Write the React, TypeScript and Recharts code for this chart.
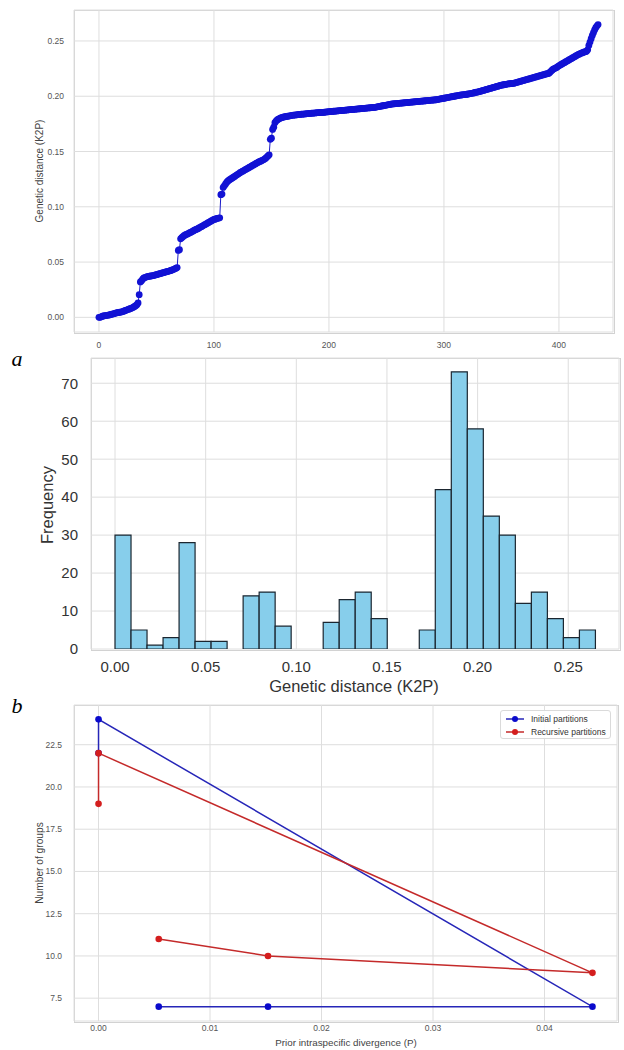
import React from 'react';
import { ComposedChart, Scatter, Bar, XAxis, YAxis, CartesianGrid, Legend } from 'recharts';

const SANS = '"Liberation Sans", Arial, Helvetica, sans-serif';
const SERIF = '"Liberation Serif", "Times New Roman", serif';

// ---------- top panel: sorted pairwise K2P distances (rank 0..434) ----------
const rankSegA = [
  0.0000, 0.0000, 0.0005, 0.0010, 0.0012, 0.0015, 0.0016, 0.0018, 0.0020, 0.0022,
  0.0025, 0.0028, 0.0030, 0.0033, 0.0036, 0.0040, 0.0042, 0.0044, 0.0046, 0.0048,
  0.0050, 0.0054, 0.0058, 0.0062, 0.0066, 0.0070, 0.0074, 0.0078, 0.0082, 0.0086,
  0.0092, 0.0098, 0.0105, 0.0115, 0.0130, 0.0205, 0.0320, 0.0330, 0.0345,
];
const rankSegB = [
  0.0356, 0.0360, 0.0364, 0.0368, 0.0370, 0.0372, 0.0374, 0.0376, 0.0378, 0.0380,
  0.0383, 0.0386, 0.0389, 0.0392, 0.0395, 0.0398, 0.0401, 0.0404, 0.0407, 0.0410,
  0.0413, 0.0416, 0.0419, 0.0422, 0.0426, 0.0430, 0.0434, 0.0439, 0.0445, 0.0450,
  0.0605, 0.0612,
];
const rankSegC = [
  0.0710, 0.0720, 0.0730, 0.0738, 0.0745, 0.0750, 0.0755, 0.0760, 0.0765, 0.0770,
  0.0776, 0.0782, 0.0788, 0.0793, 0.0797, 0.0802, 0.0808, 0.0814, 0.0820, 0.0826,
  0.0832, 0.0838, 0.0844, 0.0850, 0.0856, 0.0862, 0.0868, 0.0874, 0.0880, 0.0885,
  0.0888, 0.0892, 0.0896, 0.0898, 0.0900,
];
const rankSegD = [
  0.1110, 0.1115, 0.1175, 0.1190, 0.1205, 0.1220, 0.1232, 0.1240, 0.1247, 0.1254,
  0.1261, 0.1268, 0.1275, 0.1282, 0.1289, 0.1296, 0.1303, 0.1310, 0.1316, 0.1322,
  0.1328, 0.1334, 0.1340, 0.1346, 0.1352, 0.1358, 0.1364, 0.1370, 0.1376, 0.1382,
  0.1388, 0.1394, 0.1400, 0.1405, 0.1410, 0.1415, 0.1420, 0.1425, 0.1432, 0.1440,
  0.1450, 0.1460, 0.1470,
];
const rankSegE = [
  0.1610, 0.1620, 0.1700, 0.1720, 0.1760,
  0.1775, 0.1785, 0.1792, 0.1798, 0.1803, 0.1807, 0.1810, 0.1813, 0.1815, 0.1817,
  0.1819, 0.1821, 0.1823, 0.1825, 0.1827, 0.1829, 0.1830, 0.1831, 0.1832, 0.1834,
  0.1835, 0.1836, 0.1837, 0.1838, 0.1839, 0.1840, 0.1841, 0.1842, 0.1843, 0.1844,
  0.1845, 0.1846, 0.1847, 0.1848, 0.1849, 0.1850, 0.1851, 0.1851, 0.1852, 0.1853,
  0.1854, 0.1854,
];
const rankSegF = [
  0.1856, 0.1857, 0.1858, 0.1859, 0.1860, 0.1861, 0.1862, 0.1863, 0.1864, 0.1865,
  0.1866, 0.1867, 0.1868, 0.1869, 0.1870, 0.1871, 0.1872, 0.1873, 0.1874, 0.1875,
  0.1876, 0.1877, 0.1878, 0.1879, 0.1880, 0.1881, 0.1882, 0.1883, 0.1884, 0.1885,
  0.1886, 0.1887, 0.1888, 0.1889, 0.1890, 0.1891, 0.1892, 0.1893, 0.1894, 0.1895,
  0.1896, 0.1897, 0.1898, 0.1899, 0.1900, 0.1902, 0.1904, 0.1906, 0.1908, 0.1910,
  0.1912, 0.1914, 0.1916, 0.1918, 0.1920, 0.1922, 0.1924, 0.1926, 0.1928, 0.1930,
  0.1931, 0.1932, 0.1933, 0.1934, 0.1935, 0.1936, 0.1937, 0.1938, 0.1939, 0.1940,
  0.1941, 0.1942, 0.1942,
];
const rankSegG = [
  0.1944, 0.1945, 0.1946, 0.1947, 0.1948, 0.1949, 0.1950, 0.1951, 0.1952, 0.1953,
  0.1954, 0.1955, 0.1956, 0.1957, 0.1958, 0.1959, 0.1960, 0.1961, 0.1962, 0.1963,
  0.1964, 0.1965, 0.1966, 0.1967, 0.1968, 0.1970, 0.1972, 0.1974, 0.1976, 0.1978,
  0.1980, 0.1982, 0.1984, 0.1986, 0.1988, 0.1990, 0.1992, 0.1994, 0.1996, 0.1998,
  0.2000, 0.2002, 0.2004, 0.2006, 0.2008, 0.2010, 0.2012, 0.2013, 0.2014, 0.2015,
  0.2016, 0.2018, 0.2020, 0.2022, 0.2024, 0.2026, 0.2028, 0.2030,
];
const rankSegH = [
  0.2034, 0.2036, 0.2038, 0.2040, 0.2043, 0.2046, 0.2049, 0.2052, 0.2055, 0.2058,
  0.2061, 0.2064, 0.2067, 0.2070, 0.2073, 0.2076, 0.2079, 0.2082, 0.2085, 0.2088,
  0.2091, 0.2094, 0.2097, 0.2100, 0.2102, 0.2104, 0.2106, 0.2108, 0.2110, 0.2112,
  0.2113, 0.2114, 0.2115, 0.2116, 0.2118,
  0.2121, 0.2124, 0.2127, 0.2130, 0.2133, 0.2136, 0.2139, 0.2142, 0.2145, 0.2148,
  0.2151, 0.2154, 0.2157, 0.2160, 0.2163, 0.2166, 0.2169, 0.2172, 0.2175, 0.2178,
  0.2181, 0.2184, 0.2187, 0.2190, 0.2193, 0.2196, 0.2199, 0.2202, 0.2204, 0.2206,
];
const rankSegI = [
  0.2215, 0.2225, 0.2235, 0.2245, 0.2250, 0.2255, 0.2260, 0.2268, 0.2275, 0.2282,
  0.2288, 0.2294, 0.2300, 0.2306, 0.2312, 0.2318, 0.2324, 0.2330, 0.2336, 0.2342,
  0.2348, 0.2354, 0.2360, 0.2366, 0.2372, 0.2378, 0.2383, 0.2388, 0.2392, 0.2396,
  0.2400, 0.2403, 0.2406, 0.2420, 0.2460, 0.2490, 0.2520, 0.2550, 0.2575, 0.2600,
  0.2620, 0.2635, 0.2648,
];
const sortedK2P = [
  ...rankSegA, ...rankSegB, ...rankSegC, ...rankSegD, ...rankSegE,
  ...rankSegF, ...rankSegG, ...rankSegH, ...rankSegI,
];
const rankPoints = sortedK2P.map((d, i) => ({ rank: i, dist: d }));
const rankTicks = [0, 100, 200, 300, 400];
const distTicks = [0, 0.05, 0.1, 0.15, 0.2, 0.25];

// ---------- middle panel: histogram of K2P distances (30 bins) ----------
const HIST_MIN = 0;
const HIST_MAX = 0.265;
const histCounts = [
  30, 5, 1, 3, 28, 2, 2, 0, 14, 15,
  6, 0, 0, 7, 13, 15, 8, 0, 0, 5,
  42, 73, 58, 35, 30, 12, 15, 8, 3, 5,
];
const BIN_W = (HIST_MAX - HIST_MIN) / histCounts.length;
const histBins = histCounts.map((c, i) => ({ mid: HIST_MIN + (i + 0.5) * BIN_W, count: c }));
const freqTicks = [0, 10, 20, 30, 40, 50, 60, 70];

// ---------- bottom panel: ABGD number of groups ----------
const priorValues = [0.0054, 0.0152, 0.0443, 0, 0];
const initialGroups = [7, 7, 7, 24, 22];
const recursiveGroups = [11, 10, 9, 22, 19];
const seriesNames = ['Initial partitions', 'Recursive partitions'];
const seriesLine = ['#2626b8', '#c42a2a'];
const seriesMarker = ['#0a0acc', '#d41e1e'];
const initialData = priorValues.map((p, i) => ({ prior: p, groups: initialGroups[i] }));
const recursiveData = priorValues.map((p, i) => ({ prior: p, groups: recursiveGroups[i] }));
const priorTicks = [0, 0.01, 0.02, 0.03, 0.04];
const groupTicks = [7.5, 10, 12.5, 15, 17.5, 20, 22.5];

const GRID = '#dedede';
const FRAME = '#d2d2d2';

const Frame = ({ left, top, width, height }: { left: number; top: number; width: number; height: number }) => (
  <div
    style={{
      position: 'absolute',
      left: left - 0.5,
      top: top - 0.5,
      width,
      height,
      border: `1px solid ${FRAME}`,
    }}
  />
);

const Txt = ({ x, y, size, color, rotate, children, family, italic }: any) => (
  <div
    style={{
      position: 'absolute',
      left: x,
      top: y,
      transform: `translate(-50%, -50%)${rotate ? ' rotate(-90deg)' : ''}`,
      whiteSpace: 'nowrap',
      fontFamily: family || SANS,
      fontSize: size,
      color,
      fontStyle: italic ? 'italic' : 'normal',
      lineHeight: 1,
    }}
  >
    {children}
  </div>
);

const rankDot = (props: any) => <circle cx={props.cx} cy={props.cy} r={3.4} fill="#1212d4" />;
const makeDot = (color: string) => (props: any) => <circle cx={props.cx} cy={props.cy} r={3.3} fill={color} />;

const legendContent = () => (
  <div
    style={{
      boxSizing: 'border-box',
      width: 111,
      height: 29,
      border: '1px solid #dadada',
      borderRadius: 3,
      background: 'rgba(255,255,255,0.9)',
      padding: '1px 0 0 4px',
      fontFamily: SANS,
      fontSize: 8.5,
      color: '#333',
    }}
  >
    {seriesNames.map((name, i) => (
      <div key={name} style={{ display: 'flex', alignItems: 'center', height: 13 }}>
        <svg width={20} height={8} style={{ marginRight: 6 }}>
          <line x1={1} y1={4} x2={19} y2={4} stroke={seriesLine[i]} strokeWidth={1.5} />
          <circle cx={10} cy={4} r={3} fill={seriesMarker[i]} />
        </svg>
        <span>{name}</span>
      </div>
    ))}
  </div>
);

export default function App() {
  const smallTick = { fontSize: 8.5, fill: '#555', fontFamily: SANS };
  const bigTick = { fontSize: 15, fill: '#333', fontFamily: SANS };
  return (
    <div style={{ position: 'absolute', left: 0, top: 0, width: 624, height: 1050, background: '#fff', overflow: 'hidden' }}>
      {/* ---- panel 1 ---- */}
      <div style={{ position: 'absolute', left: 0, top: 0, width: 624, height: 360 }}>
        <Frame left={74} top={10} width={539} height={322} />
        <div style={{ position: 'absolute', left: 0, top: 0 }}>
          <ComposedChart width={624} height={360} margin={{ top: 10, right: 11, bottom: 0, left: 0 }}>
            <CartesianGrid stroke={GRID} strokeWidth={1} />
            <XAxis
              type="number"
              dataKey="rank"
              domain={[-21.7, 447]}
              allowDataOverflow
              ticks={rankTicks}
              interval={0}
              height={28}
              axisLine={false}
              tickLine={false}
              tickSize={0}
              tickMargin={10}
              tick={smallTick}
            />
            <YAxis
              type="number"
              dataKey="dist"
              domain={[-0.01325, 0.278]}
              allowDataOverflow
              ticks={distTicks}
              interval={0}
              width={74}
              axisLine={false}
              tickLine={false}
              tickSize={0}
              tickMargin={10}
              tick={smallTick}
              tickFormatter={(v: number) => v.toFixed(2)}
            />
            <Scatter
              data={rankPoints}
              dataKey="dist"
              line={{ stroke: '#1a1ac8', strokeWidth: 1 }}
              lineJointType="linear"
              shape={rankDot}
              isAnimationActive={false}
            />
          </ComposedChart>
        </div>
        <Txt x={40} y={171} size={10} color="#444" rotate>
          Genetic distance (K2P)
        </Txt>
      </div>

      {/* ---- panel 2 ---- */}
      <div style={{ position: 'absolute', left: 0, top: 350, width: 624, height: 345, background: '#fff' }}>
        <Frame left={91} top={8} width={528} height={291} />
        <div style={{ position: 'absolute', left: 0, top: 0 }}>
          <ComposedChart width={624} height={345} data={histBins} margin={{ top: 8, right: 5, bottom: 0, left: 0 }}>
            <CartesianGrid stroke={GRID} strokeWidth={1} />
            <XAxis
              type="number"
              dataKey="mid"
              domain={[-0.01325, 0.278]}
              allowDataOverflow
              ticks={distTicks}
              interval={0}
              height={46}
              axisLine={false}
              tickLine={false}
              tickSize={0}
              tickMargin={12}
              tick={bigTick}
              tickFormatter={(v: number) => v.toFixed(2)}
            />
            <YAxis
              type="number"
              domain={[0, 76.65]}
              allowDataOverflow
              ticks={freqTicks}
              interval={0}
              width={91}
              axisLine={false}
              tickLine={false}
              tickSize={0}
              tickMargin={13}
              tick={bigTick}
            />
            <Bar
              dataKey="count"
              fill="#87ceeb"
              stroke="#1b2630"
              strokeWidth={1.2}
              barSize={16}
              isAnimationActive={false}
            />
          </ComposedChart>
        </div>
        <Txt x={47} y={155} size={16.5} color="#333" rotate>
          Frequency
        </Txt>
        <Txt x={354} y={336} size={16.5} color="#333">
          Genetic distance (K2P)
        </Txt>
      </div>

      {/* ---- panel 3 ---- */}
      <div style={{ position: 'absolute', left: 0, top: 695, width: 624, height: 355, background: '#fff' }}>
        <Frame left={74} top={10} width={543} height={316} />
        <div style={{ position: 'absolute', left: 0, top: 0 }}>
          <ComposedChart width={624} height={355} margin={{ top: 10, right: 7, bottom: 0, left: 0 }}>
            <CartesianGrid stroke={GRID} strokeWidth={1} />
            <XAxis
              type="number"
              dataKey="prior"
              domain={[-0.0022, 0.0465]}
              allowDataOverflow
              ticks={priorTicks}
              interval={0}
              height={29}
              axisLine={false}
              tickLine={false}
              tickSize={0}
              tickMargin={4}
              tick={smallTick}
              tickFormatter={(v: number) => v.toFixed(2)}
            />
            <YAxis
              type="number"
              dataKey="groups"
              domain={[6.15, 24.85]}
              allowDataOverflow
              ticks={groupTicks}
              interval={0}
              width={74}
              axisLine={false}
              tickLine={false}
              tickSize={0}
              tickMargin={12}
              tick={smallTick}
              tickFormatter={(v: number) => v.toFixed(1)}
            />
            <Legend
              layout="vertical"
              align="center"
              verticalAlign="middle"
              wrapperStyle={{ left: 500, top: 15, width: 111 }}
              content={legendContent}
            />
            <Scatter
              name={seriesNames[0]}
              data={initialData}
              fill={seriesMarker[0]}
              line={{ stroke: seriesLine[0], strokeWidth: 1.5 }}
              lineJointType="linear"
              shape={makeDot(seriesMarker[0])}
              isAnimationActive={false}
            />
            <Scatter
              name={seriesNames[1]}
              data={recursiveData}
              fill={seriesMarker[1]}
              line={{ stroke: seriesLine[1], strokeWidth: 1.5 }}
              lineJointType="linear"
              shape={makeDot(seriesMarker[1])}
              isAnimationActive={false}
            />
          </ComposedChart>
        </div>
        <Txt x={40} y={168} size={10.2} color="#444" rotate>
          Number of groups
        </Txt>
        <Txt x={346} y={348} size={9.8} color="#444">
          Prior intraspecific divergence (P)
        </Txt>
      </div>

      {/* panel letters */}
      <Txt x={17} y={359} size={22} color="#000" family={SERIF} italic>
        a
      </Txt>
      <Txt x={17} y={706} size={22} color="#000" family={SERIF} italic>
        b
      </Txt>
    </div>
  );
}
